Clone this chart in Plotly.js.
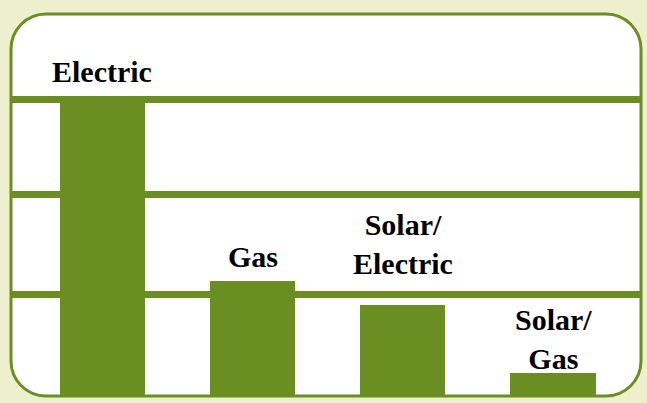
<!DOCTYPE html>
<html>
<head>
<meta charset="utf-8">
<script src="https://cdn.plot.ly/plotly-3.0.1.min.js"></script>
<style>
  html, body { margin: 0; padding: 0; background: #EEF0CD; }
  #chart { width: 647px; height: 403px; }
</style>
</head>
<body>
<div id="chart"></div>
<script>
// ---- data ----
const categories = ["Electric", "Gas", "Solar/Electric", "Solar/Gas"];
const labels = ["Electric", "Gas", "Solar/<br>Electric", "Solar/<br>Gas"];
const values = [2.98, 1.135, 0.895, 0.212];
const gridValues = [1, 2, 2.95];

// ---- styles ----
const OLIVE = "#6B8E23";
const BG = "#EEF0CD";
const FONT = "Liberation Serif, Times New Roman, serif";
const labelShift = [7, 6, 23, -4];

const W = 647, H = 403;
const margin = {l: 11, r: 6, t: 14, b: 7};
const pw = W - margin.l - margin.r, ph = H - margin.t - margin.b;
const R = 35;
const rx = R / pw, ry = R / ph, k = 0.5523;
const f = v => v.toFixed(5);
const roundRect =
  `M ${f(rx)},0 L ${f(1 - rx)},0 ` +
  `C ${f(1 - rx + k * rx)},0 1,${f(ry - k * ry)} 1,${f(ry)} ` +
  `L 1,${f(1 - ry)} ` +
  `C 1,${f(1 - ry + k * ry)} ${f(1 - rx + k * rx)},1 ${f(1 - rx)},1 ` +
  `L ${f(rx)},1 ` +
  `C ${f(rx - k * rx)},1 0,${f(1 - ry + k * ry)} 0,${f(1 - ry)} ` +
  `L 0,${f(ry)} ` +
  `C 0,${f(ry - k * ry)} ${f(rx - k * rx)},0 ${f(rx)},0 Z`;

const trace = {
  type: "bar",
  x: categories,
  y: values,
  width: 0.566,
  marker: {color: OLIVE, line: {width: 0}},
  hoverinfo: "none"
};

const annotations = categories.map((c, i) => ({
  x: c, y: values[i], xref: "x", yref: "y",
  text: labels[i],
  showarrow: false,
  xanchor: "center", yanchor: "bottom",
  yshift: labelShift[i],
  font: {family: FONT, size: 30, color: "#000000", weight: 700}
}));

const layout = {
  width: W, height: H,
  margin: margin,
  font: {family: FONT, color: "#000000"},
  paper_bgcolor: BG,
  plot_bgcolor: "rgba(0,0,0,0)",
  showlegend: false,
  bargap: 0,
  xaxis: {
    type: "category",
    range: [-0.609, 3.586],
    showgrid: false, zeroline: false, showticklabels: false, ticks: "", showline: false
  },
  yaxis: {
    range: [-0.015, 3.805],
    tickmode: "array",
    tickvals: gridValues,
    showgrid: true, gridcolor: OLIVE, gridwidth: 7,
    zeroline: false, showticklabels: false, ticks: "", showline: false
  },
  shapes: [
    {type: "path", xref: "paper", yref: "paper", layer: "below",
     path: roundRect, fillcolor: "#FFFFFF", line: {width: 0}},
    {type: "path", xref: "paper", yref: "paper", layer: "above",
     path: roundRect, fillcolor: "rgba(0,0,0,0)", line: {color: OLIVE, width: 3}}
  ],
  annotations: annotations
};

Plotly.newPlot("chart", [trace], layout, {staticPlot: true, displayModeBar: false});
</script>
</body>
</html>
